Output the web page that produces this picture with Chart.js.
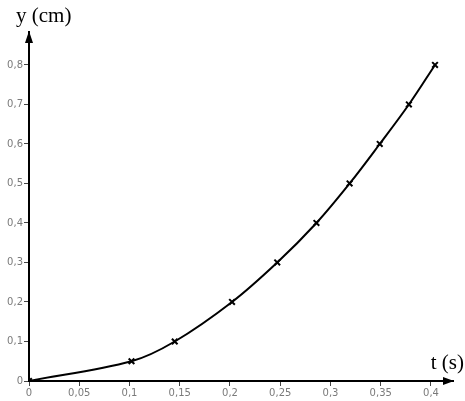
<!DOCTYPE html>
<html>
<head>
<meta charset="utf-8">
<script src="https://cdn.jsdelivr.net/npm/chart.js@4"></script>
<style>
  html, body { margin: 0; padding: 0; background: #fff; }
  canvas { display: block; }
</style>
</head>
<body>
<canvas id="myChart" width="465" height="401"></canvas>
<script>
// measured points (t in s, y in cm)
const tValues = [0, 0.102, 0.145, 0.202, 0.247, 0.286, 0.319, 0.349, 0.378, 0.404];
const yValues = [0, 0.05, 0.1, 0.2, 0.3, 0.4, 0.5, 0.6, 0.7, 0.8];
const xTicks = [0, 0.05, 0.1, 0.15, 0.2, 0.25, 0.3, 0.35, 0.4];
const yTicks = [0, 0.1, 0.2, 0.3, 0.4, 0.5, 0.6, 0.7, 0.8];
const xTitle = 't (s)';
const yTitle = 'y (cm)';

const fmt = v => String(v).replace('.', ',');

// arrows at the ends of the axes + axis titles
const axesDeco = {
  id: 'axesDeco',
  afterDraw(chart) {
    const { ctx, chartArea: a } = chart;
    ctx.save();
    ctx.fillStyle = '#000';
    // y arrow
    ctx.beginPath();
    ctx.moveTo(a.left, a.top - 1);
    ctx.lineTo(a.left - 4, a.top + 11);
    ctx.lineTo(a.left + 4, a.top + 11);
    ctx.closePath();
    ctx.fill();
    // x arrow
    ctx.beginPath();
    ctx.moveTo(a.right + 1, a.bottom);
    ctx.lineTo(a.right - 10, a.bottom - 4);
    ctx.lineTo(a.right - 10, a.bottom + 4);
    ctx.closePath();
    ctx.fill();

    ctx.font = '21px "Liberation Serif", "Times New Roman", serif';
    ctx.textBaseline = 'alphabetic';
    ctx.textAlign = 'left';
    ctx.fillText(yTitle, 16, 22);
    ctx.textAlign = 'right';
    ctx.fillText(xTitle, 464, 369);
    ctx.restore();
  }
};

const ctx = document.getElementById('myChart');
const myChart = new Chart(ctx, {
  type: 'line',
  data: {
    datasets: [{
      data: tValues.map((t, i) => ({ x: t, y: yValues[i] })),
      borderColor: '#000',
      borderWidth: 2,
      tension: 0.35,
      pointStyle: 'crossRot',
      pointRadius: 4,
      pointBorderWidth: 2,
      pointBorderColor: '#000',
      pointBackgroundColor: '#000',
      fill: false
    }]
  },
  options: {
    responsive: false,
    animation: false,
    layout: { padding: { top: 32, right: 12, left: 0, bottom: 0 } },
    plugins: {
      legend: { display: false },
      tooltip: { enabled: false }
    },
    scales: {
      x: {
        type: 'linear',
        min: 0,
        max: 0.4219,
        afterBuildTicks: s => { s.ticks = xTicks.map(v => ({ value: v })); },
        afterFit: s => { s.height = 20; },
        ticks: {
          color: '#7a7a7a',
          padding: 1,
          maxRotation: 0,
          autoSkip: false,
          font: { family: 'DejaVu Sans', size: 10 },
          callback: v => fmt(v)
        },
        grid: { drawOnChartArea: false, drawTicks: true, tickLength: 5, color: '#444' },
        border: { display: true, color: '#000', width: 2 }
      },
      y: {
        type: 'linear',
        min: 0,
        max: 0.8835,
        afterBuildTicks: s => { s.ticks = yTicks.map(v => ({ value: v })); },
        afterFit: s => { s.width = 29; },
        ticks: {
          color: '#7a7a7a',
          padding: 1,
          autoSkip: false,
          font: { family: 'DejaVu Sans', size: 10 },
          callback: v => fmt(v)
        },
        grid: { drawOnChartArea: false, drawTicks: true, tickLength: 5, color: '#444' },
        border: { display: true, color: '#000', width: 2 }
      }
    }
  },
  plugins: [axesDeco]
});
</script>
</body>
</html>
